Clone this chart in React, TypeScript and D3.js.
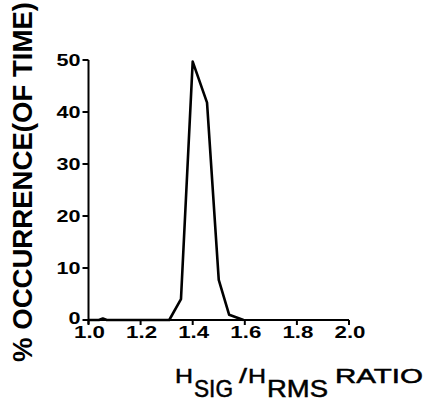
import React from "react";
import * as d3 from "d3";

const ratio = [1.0, 1.04, 1.055, 1.07, 1.31, 1.355, 1.4, 1.455, 1.5, 1.54, 1.595];
const pct = [0, 0, 0.3, 0, 0, 4, 49.7, 41.8, 7.7, 1.0, 0];
const xTicks = [1.0, 1.2, 1.4, 1.6, 1.8, 2.0];
const yTicks = [0, 10, 20, 30, 40, 50];

export default function App() {
  const W = 428, H = 405;
  const x = d3.scaleLinear().domain([1, 2]).range([88.5, 349]);
  const y = d3.scaleLinear().domain([0, 50]).range([320, 60]);
  const pts: [number, number][] = ratio.map((r, i) => [r, pct[i]]);
  const line = d3.line<[number, number]>().x(d => x(d[0])).y(d => y(d[1]));
  const font = "'Liberation Sans', Arial, Helvetica, sans-serif";
  return (
    <svg width={W} height={H} style={{ position: "absolute", left: 0, top: 0, background: "#fff" }} fontFamily={font}>
      {/* axes */}
      <line x1={x(1)} x2={x(1)} y1={y(50)} y2={y(0) + 4} stroke="#000" strokeWidth={2} />
      <line x1={x(1) - 4} x2={x(2)} y1={y(0)} y2={y(0)} stroke="#000" strokeWidth={2} />
      {yTicks.map(t => {
        const s = String(t);
        return (
          <g key={"y" + t}>
            <line x1={x(1) - 6} x2={x(1)} y1={y(t)} y2={y(t)} stroke="#000" strokeWidth={2} />
            <text x={x(1) - 8} y={y(t) - (t === 0 ? 2 : 0)} dy="0.36em" textAnchor="end" fontSize={17} fontWeight="bold"
              textLength={s.length * 12} lengthAdjust="spacingAndGlyphs">{s}</text>
          </g>
        );
      })}
      {xTicks.map(t => (
        <g key={"x" + t}>
          <line x1={x(t)} x2={x(t)} y1={y(0)} y2={y(0) + 5} stroke="#000" strokeWidth={2} />
          <text x={x(t) + 1} y={338} textAnchor="middle" fontSize={17} fontWeight="bold"
            textLength={31} lengthAdjust="spacingAndGlyphs">{t.toFixed(1)}</text>
        </g>
      ))}
      {/* data */}
      <path d={line(pts) || ""} fill="none" stroke="#000" strokeWidth={2.6} strokeLinejoin="round" />
      {/* y label */}
      <text transform="translate(32,182) rotate(-90)" textAnchor="middle" fontSize={27} fontWeight="bold" textLength={360} lengthAdjust="spacingAndGlyphs">% OCCURRENCE(OF TIME)</text>
      {/* x label */}
      <g fontSize={21} stroke="#000" strokeWidth={0.5}>
        <text x={175} y={383} textLength={18} lengthAdjust="spacingAndGlyphs">H</text>
        <text x={194} y={397} fontSize={24} textLength={39} lengthAdjust="spacingAndGlyphs">SIG</text>
        <text x={239} y={383} textLength={8} lengthAdjust="spacingAndGlyphs">/</text>
        <text x={248} y={383} textLength={18} lengthAdjust="spacingAndGlyphs">H</text>
        <text x={267} y={397} fontSize={24} textLength={61} lengthAdjust="spacingAndGlyphs">RMS</text>
        <text x={335} y={383} textLength={88} lengthAdjust="spacingAndGlyphs">RATIO</text>
      </g>
    </svg>
  );
}
